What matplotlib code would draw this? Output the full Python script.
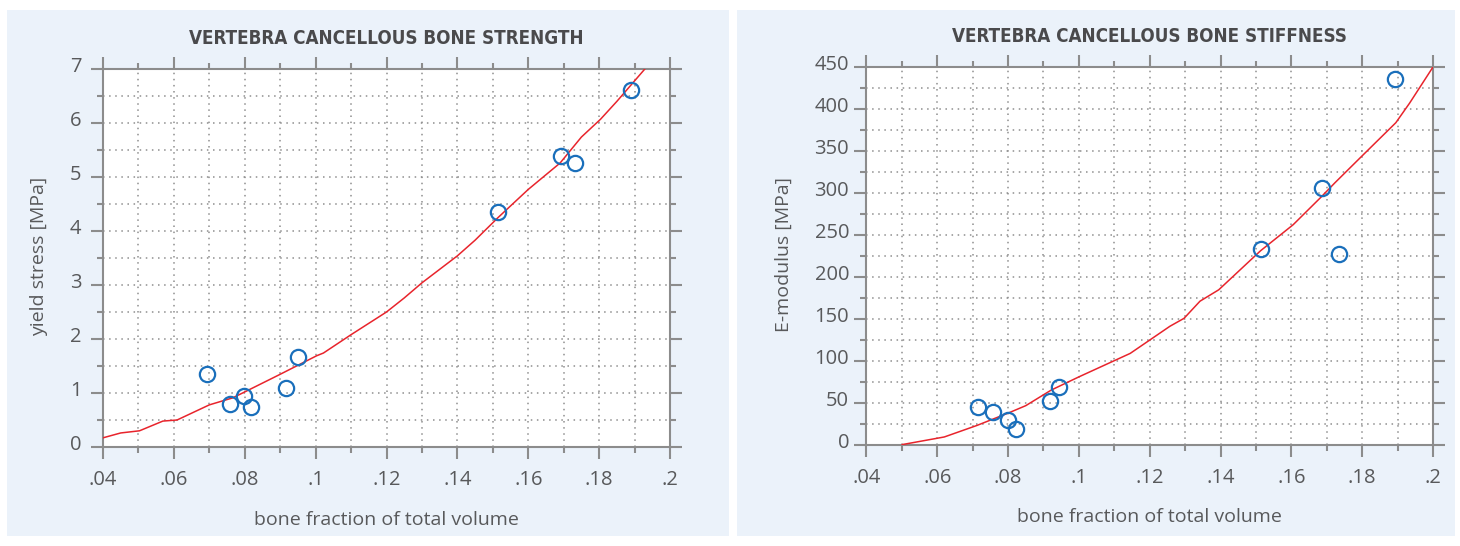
import matplotlib
matplotlib.use("Agg")
import matplotlib.pyplot as plt
from matplotlib.patches import Rectangle
from matplotlib.transforms import ScaledTranslation
from matplotlib.ticker import MultipleLocator

# ---------------- data ----------------
x_ticks = [0.04, 0.06, 0.08, 0.10, 0.12, 0.14, 0.16, 0.18, 0.20]
x_tick_labels = ['.04', '.06', '.08', '.1', '.12', '.14', '.16', '.18', '.2']

# strength panel
strength_x = [0.0693, 0.0758, 0.0798, 0.0818, 0.0916, 0.0950, 0.1515, 0.1692, 0.1732, 0.1890]
strength_y = [1.36, 0.80, 0.94, 0.75, 1.09, 1.66, 4.35, 5.38, 5.26, 6.61]
strength_fit_x = [0.0400, 0.0450, 0.0503, 0.0569, 0.0609, 0.0700, 0.0766, 0.0800, 0.0898,
                  0.1003, 0.1022, 0.1100, 0.1200, 0.1250, 0.1300, 0.1400, 0.1450, 0.1515,
                  0.1600, 0.1690, 0.1750, 0.1804, 0.1850, 0.1929, 0.1935]
strength_fit_y = [0.17, 0.26, 0.30, 0.48, 0.50, 0.78, 0.91, 1.02, 1.34,
                  1.69, 1.74, 2.08, 2.50, 2.76, 3.04, 3.54, 3.83, 4.25,
                  4.77, 5.26, 5.74, 6.07, 6.40, 7.00, 7.05]
strength_yticks = [0, 1, 2, 3, 4, 5, 6, 7]

# stiffness panel
stiff_x = [0.0714, 0.0758, 0.0800, 0.0822, 0.0918, 0.0944, 0.1514, 0.1687, 0.1734, 0.1892]
stiff_y = [45.2, 39.4, 29.9, 18.2, 51.8, 68.4, 232.6, 305.6, 227.7, 435.9]
stiff_fit_x = [0.0501, 0.0620, 0.0712, 0.0804, 0.0850, 0.0922, 0.1001, 0.1145, 0.1257,
               0.1297, 0.1342, 0.1395, 0.1513, 0.1605, 0.1684, 0.1723, 0.1802, 0.1895,
               0.1934, 0.2000]
stiff_fit_y = [0.0, 9.1, 22.8, 38.2, 46.4, 65.0, 80.9, 108.7, 141.0,
               150.5, 170.9, 184.5, 231.0, 262.0, 295.0, 312.0, 345.0, 383.6,
               407.0, 450.0]
stiff_yticks = [0, 50, 100, 150, 200, 250, 300, 350, 400, 450]

titles = ['VERTEBRA CANCELLOUS BONE STRENGTH', 'VERTEBRA CANCELLOUS BONE STIFFNESS']
ylabels = ['yield stress [MPa]', 'E-modulus [MPa]']
xlabel = 'bone fraction of total volume'

# ---------------- style ----------------
BG = '#EBF2FA'
GREY = '#8c8c8c'
TXT = '#58595b'
TITLE_C = '#4a4a4c'
RED = '#e8242c'
BLUE = '#1a6fbb'

W, H = 1460, 546
fig = plt.figure(figsize=(W / 100, H / 100), dpi=100)
fig.patch.set_facecolor('white')

for (x0, x1) in [(7, 729), (737, 1455)]:
    fig.patches.append(Rectangle((x0 / W, 10 / H), (x1 - x0) / W, (536 - 10) / H,
                                 transform=fig.transFigure, facecolor=BG,
                                 edgecolor='none', zorder=-10))

def px_axes(l, r, t, b):
    return [l / W, (H - b) / H, (r - l) / W, (b - t) / H]

ax1 = fig.add_axes(px_axes(103, 670, 69, 447))
ax2 = fig.add_axes(px_axes(866.4, 1433, 67, 444.6))

panels = [
    (ax1, strength_x, strength_y, strength_fit_x, strength_fit_y, strength_yticks, 7, 0.5, -0.112, 7),
    (ax2, stiff_x, stiff_y, stiff_fit_x, stiff_fit_y, stiff_yticks, 450, 25, -0.146, 4),
]

for i, (ax, px, py, fx, fy, yt, ymax, ymin, ylab_x, ypad) in enumerate(panels):
    ax.set_facecolor('white')
    ax.set_xlim(0.04, 0.2)
    ax.set_ylim(0, ymax)
    ax.set_xticks(x_ticks)
    ax.set_xticklabels(x_tick_labels)
    ax.xaxis.set_minor_locator(MultipleLocator(0.01))
    ax.set_yticks(yt)
    ax.set_yticklabels([str(v) for v in yt])
    ax.yaxis.set_minor_locator(MultipleLocator(ymin))

    ax.grid(which='both', linestyle=(0, (1, 3)), color='#8e8e8e', linewidth=1.1)
    ax.set_axisbelow(True)

    for s in ax.spines.values():
        s.set_color(GREY)
        s.set_linewidth(1.5)

    ax.tick_params(which='both', direction='out', top=True, right=True,
                   color=GREY, width=1.5)
    ax.tick_params(which='major', length=8.5)
    ax.tick_params(which='minor', length=4.5)
    ax.tick_params(axis='x', which='major', pad=8)
    ax.tick_params(axis='y', which='major', pad=ypad)

    for lab in ax.get_xticklabels() + ax.get_yticklabels():
        lab.set_fontfamily('Open Sans')
        lab.set_fontsize(14.5)
        lab.set_color(TXT)
    off = ScaledTranslation(0, 4 / 100, fig.dpi_scale_trans)
    for lab in ax.get_yticklabels():
        lab.set_transform(lab.get_transform() + off)

    ax.plot(fx, fy, color=RED, linewidth=1.1, zorder=3, clip_on=True)
    ax.plot(px, py, linestyle='none', marker='o', markersize=11,
            markerfacecolor='none', markeredgecolor=BLUE, markeredgewidth=1.6,
            zorder=4, clip_on=False)

    ax.text(0.5, 1.08, titles[i], transform=ax.transAxes, ha='center', va='center',
            family='DejaVu Sans', fontstretch='condensed', fontweight='bold',
            fontsize=13.5, color=TITLE_C)

    ax.set_xlabel(xlabel, family='Open Sans', fontsize=14, color=TXT)
    ax.xaxis.set_label_coords(0.5, -0.192)
    ax.xaxis.label.set_va('center')
    ax.set_ylabel(ylabels[i], family='Open Sans', fontsize=14, color=TXT)
    ax.yaxis.set_label_coords(ylab_x, 0.503)
    ax.yaxis.label.set_va('center')

fig.savefig('out.png', dpi=100, facecolor='white')
